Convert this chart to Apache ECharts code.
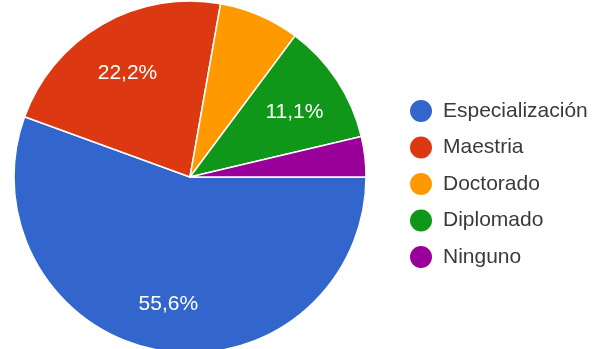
<!DOCTYPE html>
<html><head><meta charset="utf-8">
<script src="https://cdn.jsdelivr.net/npm/echarts@6/dist/echarts.min.js"></script>
<style>html,body{margin:0;padding:0;background:#fff}#c{width:600px;height:349px}</style>
</head><body><div id="c"></div>
<script>
const categories = ['Especialización', 'Maestria', 'Doctorado', 'Diplomado', 'Ninguno'];
const values = [15, 6, 2, 3, 1];
const colors = ['#3366cc', '#dc3912', '#ff9900', '#109618', '#990099'];

const total = values.reduce((a, b) => a + b, 0);
const fmtPct = v => (v / total * 100).toFixed(1).replace('.', ',') + '%';

const chart = echarts.init(document.getElementById('c'));
chart.setOption({
  animation: false,
  color: colors,
  legend: {
    orient: 'vertical',
    left: 403,
    top: 93,
    icon: 'circle',
    itemWidth: 24,
    itemHeight: 24,
    itemGap: 10.5,
    data: categories,
    textStyle: { fontFamily: 'Liberation Sans, Arial', fontSize: 21, lineHeight: 22, color: '#3a3a3a', padding: [0, 0, 0, 5] }
  },
  series: [
    {
      type: 'pie',
      center: [190, 177],
      radius: [0, 176],
      startAngle: 0,
      clockwise: true,
      silent: true,
      itemStyle: { borderColor: '#fff', borderWidth: 1.5 },
      label: { show: false },
      labelLine: { show: false },
      data: categories.map((n, i) => ({ name: n, value: values[i] }))
    },
    {
      type: 'pie',
      center: [190, 177],
      radius: [68, 176],
      startAngle: 0,
      clockwise: true,
      silent: true,
      itemStyle: { color: 'rgba(0,0,0,0)' },
      labelLine: { show: false },
      label: {
        show: true,
        position: 'inside',
        color: '#fff',
        fontFamily: 'Liberation Sans, Arial',
        fontSize: 21,
        offset: [0, 4],
        formatter: p => fmtPct(p.value)
      },
      data: categories.map((n, i) => ({
        name: n, value: values[i],
        label: { show: values[i] / total >= 0.1 }
      }))
    }
  ]
});
</script></body></html>
